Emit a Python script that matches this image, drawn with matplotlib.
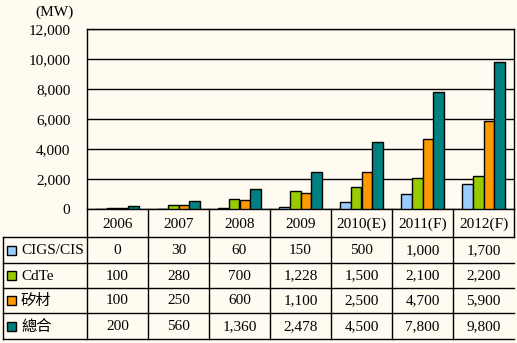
import matplotlib
matplotlib.use("Agg")
import matplotlib.pyplot as plt
from matplotlib.patches import Rectangle
import numpy as np

plt.rcParams['font.family'] = ['Liberation Serif', 'Noto Sans CJK TC', 'DejaVu Sans']

years = ["2006", "2007", "2008", "2009", "2010(E)", "2011(F)", "2012(F)"]
series_names = ["CIGS/CIS", "CdTe", "矽材", "總合"]
cigs = [0, 30, 60, 150, 500, 1000, 1700]
cdte = [100, 280, 700, 1228, 1500, 2100, 2200]
silicon = [100, 250, 600, 1100, 2500, 4700, 5900]
total = [200, 560, 1360, 2478, 4500, 7800, 9800]
colors = ["#99CCFF", "#99CC00", "#FF9900", "#008080"]
yticks = [0, 2000, 4000, 6000, 8000, 10000, 12000]

bg = "#FFFBF0"
W, H = 517, 343
fs = 11
fig = plt.figure(figsize=(W / 100, H / 100), dpi=100, facecolor=bg)

# bar area in pixels
x0, x1 = 87, 514
ytop, ybot = 29, 209
ax = fig.add_axes([x0 / W, 1 - ybot / H, (x1 - x0) / W, (ybot - ytop) / H])
ax.set_facecolor(bg)

data = [cigs, cdte, silicon, total]
n = len(years)
x = np.arange(n)
bw = 0.18
for i, (vals, c) in enumerate(zip(data, colors)):
    ax.bar(x + (i - 1.5) * bw, vals, bw, color=c, edgecolor="black", linewidth=1, zorder=3)

ax.set_xlim(-0.5, n - 0.5)
ax.set_ylim(0, 12000)
ax.set_yticks(yticks)
ax.set_yticklabels(["{:,}".format(v) for v in yticks], fontsize=fs)
ax.tick_params(axis="y", length=0, pad=12)
ax.set_xticks([])
ax.yaxis.grid(True, color="black", linewidth=1)
ax.set_axisbelow(True)
for s in ax.spines.values():
    s.set_color("black")
    s.set_linewidth(1)

fig.text(55 / W, 1 - 12 / H, "(MW)", ha="center", va="center", fontsize=fs)

# data table drawn in pixel coords
tab = fig.add_axes([0, 0, 1, 1])
tab.set_xlim(0, W)
tab.set_ylim(H, 0)
tab.axis("off")
tab.patch.set_alpha(0)

colw = (x1 - x0) / n
rows_y = [237, 263, 288, 313, 339]
lk = dict(color="black", linewidth=1)
for y in rows_y:
    tab.plot([3, x1], [y, y], **lk)
tab.plot([3, 3], [rows_y[0], rows_y[-1]], **lk)
for j in range(n):
    xb = x0 + j * colw
    tab.plot([xb, xb], [ybot, rows_y[-1]], **lk)
tab.plot([x1, x1], [ybot, rows_y[0]], **lk)

for j, yr in enumerate(years):
    tab.text(x0 + (j + 0.5) * colw, (ybot + rows_y[0]) / 2 + 1, yr,
             ha="center", va="center", fontsize=fs)

for r, (name, vals, c) in enumerate(zip(series_names, data, colors)):
    yc = (rows_y[r] + rows_y[r + 1]) / 2
    tab.add_patch(Rectangle((7, yc - 4.5), 9, 9, facecolor=c, edgecolor="black", linewidth=1))
    tab.text(21, yc + 0.5, name, ha="left", va="center", fontsize=fs)
    for j, v in enumerate(vals):
        tab.text(x0 + (j + 0.5) * colw, yc + 0.5, "{:,}".format(v),
                 ha="center", va="center", fontsize=fs)

fig.savefig("out.png", dpi=100, facecolor=bg)
